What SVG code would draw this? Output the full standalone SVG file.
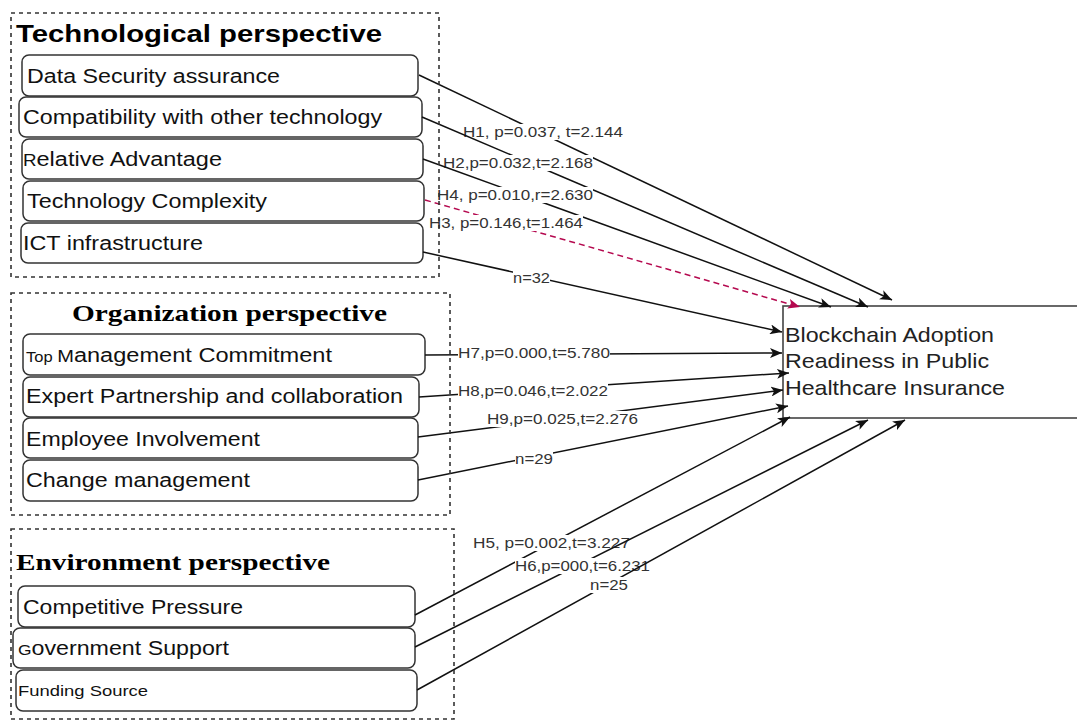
<svg xmlns="http://www.w3.org/2000/svg" width="1077" height="721" viewBox="0 0 1077 721">
<defs>
<style>
.frame{fill:none;stroke:#333;stroke-width:1.6;stroke-dasharray:4 4}
.node{fill:#fff;stroke:#333;stroke-width:1.5}
.nt{font-family:"Liberation Sans",Arial,sans-serif;font-size:20px;fill:#111}
.ttl{font-family:"Liberation Sans",Arial,sans-serif;font-size:24px;font-weight:bold;fill:#000}
.ttls{font-family:"Liberation Serif","Times New Roman",serif;font-size:24px;font-weight:bold;fill:#000}
.edge{fill:none;stroke:#111;stroke-width:1.5;marker-end:url(#arr)}
.red{fill:none;stroke:#b5094f;stroke-width:1.5;stroke-dasharray:6 4;marker-end:url(#arrR)}
.lbl{font-family:"Liberation Sans",Arial,sans-serif;font-size:15px;fill:#333}
.bg{fill:#fff}
</style>
<marker id="arr" viewBox="0 0 12 10" refX="12" refY="5" markerWidth="12" markerHeight="10" markerUnits="userSpaceOnUse" orient="auto">
<path d="M0,0 L12,5 L0,10 L3,5 z" fill="#111"/>
</marker>
<marker id="arrR" viewBox="0 0 12 10" refX="12" refY="5" markerWidth="12" markerHeight="10" markerUnits="userSpaceOnUse" orient="auto">
<path d="M0,0 L12,5 L0,10 L3,5 z" fill="#b5094f"/>
</marker>
</defs>
<rect width="1077" height="721" fill="#fff"/>

<g id="n-data"><rect class="node" x="22" y="55" width="396" height="41" rx="7"/><text class="nt" x="27" y="83" textLength="253" lengthAdjust="spacingAndGlyphs">Data Security assurance</text></g>
<g id="n-compat"><rect class="node" x="19" y="97" width="403" height="40" rx="7"/><text class="nt" x="23" y="124" textLength="359" lengthAdjust="spacingAndGlyphs">Compatibility with other technology</text></g>
<g id="n-relative"><rect class="node" x="22" y="139" width="401" height="40" rx="7"/><text class="nt" x="23" y="166" textLength="199" lengthAdjust="spacingAndGlyphs"><tspan font-size="16">R</tspan>elative Advantage</text></g>
<g id="n-complex"><rect class="node" x="23" y="181" width="401" height="40" rx="7"/><text class="nt" x="27" y="208" textLength="240" lengthAdjust="spacingAndGlyphs">Technology Complexity</text></g>
<g id="n-ict"><rect class="node" x="21" y="223" width="402" height="40" rx="7"/><text class="nt" x="23" y="250" textLength="180" lengthAdjust="spacingAndGlyphs">ICT infrastructure</text></g>

<g id="n-top"><rect class="node" x="23" y="334" width="402" height="41" rx="7"/><text class="nt" x="26" y="362" textLength="306" lengthAdjust="spacingAndGlyphs"><tspan font-size="14">Top </tspan><tspan font-size="17">M</tspan>anagement Commitment</text></g>
<g id="n-expert"><rect class="node" x="23" y="377" width="396" height="40" rx="7"/><text class="nt" x="26" y="403" textLength="377" lengthAdjust="spacingAndGlyphs">Expert Partnership and collaboration</text></g>
<g id="n-employee"><rect class="node" x="23" y="418" width="395" height="40" rx="7"/><text class="nt" x="26" y="446" textLength="234" lengthAdjust="spacingAndGlyphs">Employee Involvement</text></g>
<g id="n-change"><rect class="node" x="23" y="460" width="395" height="41" rx="7"/><text class="nt" x="26" y="487" textLength="224" lengthAdjust="spacingAndGlyphs">Change management</text></g>

<g id="n-competitive"><rect class="node" x="18" y="586" width="397" height="41" rx="7"/><text class="nt" x="23" y="614" textLength="220" lengthAdjust="spacingAndGlyphs">Competitive Pressure</text></g>
<g id="n-government"><rect class="node" x="13" y="628" width="402" height="40" rx="7"/><text class="nt" x="18" y="655" textLength="211" lengthAdjust="spacingAndGlyphs"><tspan font-size="15">G</tspan>overnment Support</text></g>
<g id="n-funding"><rect class="node" x="16" y="670" width="401" height="41" rx="7"/><text class="nt" x="18" y="696" font-size="15" style="font-size:15px" textLength="130" lengthAdjust="spacingAndGlyphs">Funding Source</text></g>

<g id="n-target"><rect x="783" y="306" width="310" height="112" fill="#fff" stroke="#444" stroke-width="1.6"/>
<text class="nt" style="font-size:21px;fill:#222"><tspan x="785" y="342" textLength="209" lengthAdjust="spacingAndGlyphs">Blockchain Adoption</tspan><tspan x="785" y="368" textLength="204" lengthAdjust="spacingAndGlyphs">Readiness in Public</tspan><tspan x="785" y="395" textLength="220" lengthAdjust="spacingAndGlyphs">Healthcare Insurance</tspan></text></g>

<g id="connectors">
<g><path class="edge" d="M419,75 L892,300"/><rect class="bg" x="463" y="124" width="160" height="16"/><text class="lbl" x="463" y="137" textLength="160" lengthAdjust="spacingAndGlyphs">H1, p=0.037, t=2.144</text></g>
<g><path class="edge" d="M422,117 L868,307"/><rect class="bg" x="443" y="155" width="150" height="16"/><text class="lbl" x="443" y="168" textLength="150" lengthAdjust="spacingAndGlyphs">H2,p=0.032,t=2.168</text></g>
<g><path class="edge" d="M423,159 L831,307"/><rect class="bg" x="437" y="187" width="156" height="16"/><text class="lbl" x="437" y="200" textLength="156" lengthAdjust="spacingAndGlyphs">H4, p=0.010,r=2.630</text></g>
<g><path class="red" d="M425,200 L800,307"/><rect class="bg" x="429" y="215" width="154" height="16"/><text class="lbl" x="429" y="228" textLength="154" lengthAdjust="spacingAndGlyphs">H3, p=0.146,t=1.464</text></g>
<g><path class="edge" d="M423,252 L782,332"/><rect class="bg" x="513" y="270" width="37" height="16"/><text class="lbl" x="513" y="283" textLength="37" lengthAdjust="spacingAndGlyphs">n=32</text></g>
<g><path class="edge" d="M425,355 L782,353"/><rect class="bg" x="458" y="345" width="152" height="16"/><text class="lbl" x="458" y="358" textLength="152" lengthAdjust="spacingAndGlyphs">H7,p=0.000,t=5.780</text></g>
<g><path class="edge" d="M419,397 L789,373"/><rect class="bg" x="458" y="383" width="150" height="16"/><text class="lbl" x="458" y="396" textLength="150" lengthAdjust="spacingAndGlyphs">H8,p=0.046,t=2.022</text></g>
<g><path class="edge" d="M418,437 L783,390"/><rect class="bg" x="487" y="411" width="151" height="16"/><text class="lbl" x="487" y="424" textLength="151" lengthAdjust="spacingAndGlyphs">H9,p=0.025,t=2.276</text></g>
<g><path class="edge" d="M418,480 L788,406"/><rect class="bg" x="515" y="451" width="38" height="16"/><text class="lbl" x="515" y="464" textLength="38" lengthAdjust="spacingAndGlyphs">n=29</text></g>
<g><path class="edge" d="M415,615 L790,417"/><rect class="bg" x="473" y="535" width="157" height="16"/><text class="lbl" x="473" y="548" textLength="157" lengthAdjust="spacingAndGlyphs">H5, p=0.002,t=3.227</text></g>
<g><path class="edge" d="M415,647 L868,420"/><rect class="bg" x="515" y="558" width="135" height="16"/><text class="lbl" x="515" y="571" textLength="135" lengthAdjust="spacingAndGlyphs">H6,p=000,t=6.231</text></g>
<g><path class="edge" d="M417,690 L905,420"/><rect class="bg" x="590" y="577" width="38" height="16"/><text class="lbl" x="590" y="590" textLength="38" lengthAdjust="spacingAndGlyphs">n=25</text></g>
</g>

<g id="g-tech"><rect class="frame" x="11" y="13" width="428" height="264"/><text class="ttl" x="16" y="42" textLength="366" lengthAdjust="spacingAndGlyphs">Technological perspective</text></g>
<g id="g-org"><rect class="frame" x="11" y="293" width="439" height="222"/><text class="ttls" x="72" y="321" textLength="315" lengthAdjust="spacingAndGlyphs">Organization perspective</text></g>
<g id="g-env"><rect class="frame" x="11" y="529" width="443" height="190"/><text class="ttls" x="16" y="570" textLength="314" lengthAdjust="spacingAndGlyphs">Environment perspective</text></g>
</svg>
